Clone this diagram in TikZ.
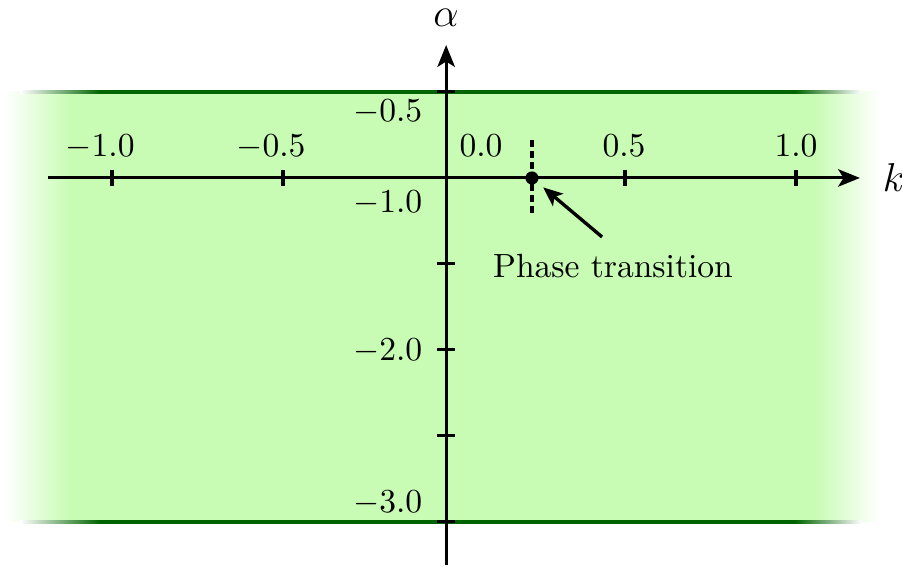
\documentclass[tikz,border=0pt]{standalone}
\usepackage{amsmath}
\usepackage{amssymb}
\usepackage{tikz}
\usetikzlibrary{positioning,arrows.meta}
\definecolor{bandfill}{RGB}{200,252,180}
\definecolor{bandline}{RGB}{0,100,0}

\begin{document}
\begin{tikzpicture}[x=3.58cm,y=1.8cm,
    axisline/.style={line width=0.9pt,-{Stealth[length=6.5pt,width=5.2pt,inset=1.6pt]}},
    tickmark/.style={line width=0.9pt},
    transline/.style={line width=1.1pt,dash pattern=on 2pt off 1.3pt},
    pointer/.style={line width=1pt,-{Stealth[length=5.8pt,width=4.8pt,inset=1.4pt]},shorten >=2.2pt}]
  \useasboundingbox (-1.3275,-3.2616) rectangle (1.31,0.0349);
  % green band with faded ends
  \fill[bandfill] (-1.123,-3) rectangle (1.056,-0.5);
  \shade[left color=white,right color=bandfill] (-1.313,-3) rectangle (-1.123,-0.5);
  \shade[left color=bandfill,right color=white] (1.056,-3) rectangle (1.246,-0.5);
  \foreach \a in {-0.5,-3}{
    \fill[bandline] (-1.035,\a-0.01) rectangle (0.997,\a+0.01);
    \shade[left color=white,right color=bandline] (-1.269,\a-0.01) rectangle (-1.035,\a+0.01);
    \shade[left color=bandline,right color=white] (0.997,\a-0.01) rectangle (1.193,\a+0.01);
  }
  % axes
  \coordinate (kstart) at (-1.187,-1);
  \coordinate (kend) at (1.187,-1);
  \coordinate (astart) at (-0.023,-3.25);
  \coordinate (aend) at (-0.023,-0.227);
  \draw[axisline] (kstart)--(kend);
  \draw[axisline] (astart)--(aend);
  \node[font=\large,inner sep=0,right=6.6pt of kend] (klbl) {$k$};
  \node[font=\large,inner sep=0,above=5.2pt of aend] (albl) {$\alpha$};
  \foreach \k in {-1,-0.5,0.5,1}{\draw[tickmark] (\k,-1) ++(0,-2.4pt) -- ++(0,4.8pt);}
  \foreach \a in {-0.5,-1,...,-3}{\draw[tickmark] (-0.023,\a) ++(-2.7pt,0) -- ++(5.4pt,0);}
  \foreach \x/\t in {-1.035/-1.0,-0.535/-0.5,0.079/0.0,0.497/0.5,1.0/1.0}{
    \node[anchor=base] at (\x,-0.878){$\t$};}
  \foreach \y/\t in {-0.674/-0.5,-1.198/-1.0,-2.064/-2.0,-2.948/-3.0}{
    \node[anchor=base east,inner sep=0] at (-0.091,\y){$\t$};}
  % phase transition
  \coordinate (dtop) at (0.228,-0.779);
  \coordinate (dbot) at (0.228,-1.215);
  \draw[transline] (dtop)--(dbot);
  \node[circle,fill,inner sep=0,minimum size=3.9pt] (pt) at (0.228,-1) {};
  \node[anchor=base] (ptlbl) at (0.465,-1.576) {Phase transition};
  \coordinate (ptail) at (0.433,-1.343);
  \draw[pointer] (ptail)--(pt);
\end{tikzpicture}
\end{document}
